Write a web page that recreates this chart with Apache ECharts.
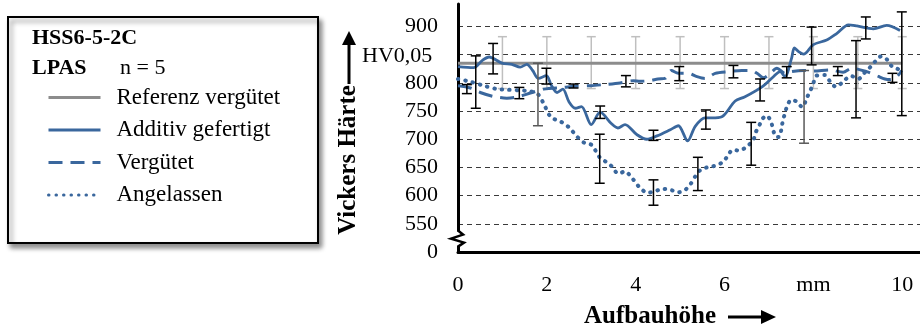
<!DOCTYPE html>
<html>
<head>
<meta charset="utf-8">
<script src="https://cdn.jsdelivr.net/npm/echarts@6/dist/echarts.min.js"></script>
<style>
  html, body { margin: 0; padding: 0; background: #fff; }
  #chart { width: 920px; height: 327px; }
</style>
</head>
<body>
<div id="chart"></div>
<script>
// Härteverlauf über der Aufbauhöhe
const additiv = [
  [0, 829], [0.35, 827], [0.55, 840], [0.7, 846], [0.99, 835], [1.21, 833], [1.4, 828], [1.55, 833],
  [1.68, 822], [1.81, 808], [1.99, 813], [2.1, 796], [2.23, 783], [2.36, 789], [2.5, 766], [2.64, 755],
  [2.78, 758], [3.0, 726], [3.2, 748], [3.45, 728], [3.6, 720], [3.76, 726], [4.03, 708], [4.25, 700],
  [4.48, 706], [4.78, 717], [4.96, 724], [5.17, 697], [5.34, 723], [5.56, 738], [5.71, 738], [5.94, 740],
  [6.24, 768], [6.45, 775], [6.86, 794], [7.1, 811], [7.25, 820], [7.36, 811], [7.51, 844], [7.57, 862],
  [7.66, 856], [7.78, 851], [8.0, 868], [8.3, 876], [8.53, 888], [8.79, 903], [8.98, 901], [9.35, 896],
  [9.65, 902], [9.95, 893]
];
const verguetet = [
  [0, 795], [0.28, 791], [0.5, 783], [0.8, 776], [1.1, 773], [1.33, 775], [1.63, 782], [1.93, 789],
  [2.38, 792], [2.6, 794], [2.98, 795], [3.28, 797], [3.65, 800], [3.95, 804], [4.1, 803], [4.33, 804],
  [4.5, 807], [4.66, 808], [4.8, 822], [4.96, 817], [5.19, 817], [5.35, 812], [5.56, 808], [5.79, 817],
  [6.09, 820], [6.39, 822], [6.61, 822], [6.73, 817], [6.88, 809], [7.03, 817], [7.18, 826], [7.36, 817],
  [7.51, 820], [7.78, 822], [8.0, 821], [8.37, 823], [8.67, 819], [8.86, 826], [9.2, 820], [9.45, 812],
  [9.61, 807], [9.73, 806], [9.88, 811], [9.99, 822]
];
const angelassen = [
  [0, 807], [0.28, 802], [0.58, 795], [0.88, 789], [1.1, 788], [1.33, 787], [1.63, 785], [1.81, 779],
  [1.96, 758], [2.08, 740], [2.19, 735], [2.34, 730], [2.5, 721], [2.69, 704], [2.86, 693], [3.01, 690],
  [3.11, 678], [3.2, 667], [3.35, 659], [3.46, 652], [3.61, 639], [3.76, 643], [3.89, 634], [4.01, 622],
  [4.12, 612], [4.27, 605], [4.44, 608], [4.61, 612], [4.79, 610], [4.96, 606], [5.11, 610], [5.23, 620],
  [5.34, 634], [5.45, 645], [5.64, 651], [5.79, 653], [5.95, 659], [6.07, 670], [6.18, 681], [6.33, 680],
  [6.5, 687], [6.65, 699], [6.7, 712], [6.78, 724], [6.85, 736], [6.95, 742], [7.05, 730], [7.1, 715],
  [7.16, 704], [7.23, 704], [7.28, 718], [7.31, 732], [7.36, 746], [7.41, 759], [7.5, 770], [7.62, 767],
  [7.75, 757], [7.85, 773], [7.94, 788], [7.99, 797], [8.07, 813], [8.26, 814], [8.38, 802], [8.51, 793],
  [8.64, 800], [8.75, 808], [8.86, 812], [9.01, 807], [9.15, 818], [9.28, 828], [9.39, 838], [9.52, 847],
  [9.65, 842], [9.76, 830], [9.89, 825], [9.99, 822]
];
const referenz = [[0, 835], [10, 835]];

// Streubalken: [x, unten, oben]
const referenzBars = [
  [1, 790, 882], [2, 790, 882], [3, 790, 882], [4, 790, 882], [5, 790, 882],
  [6, 790, 882], [7, 790, 882], [8, 790, 882], [9, 790, 882], [10, 790, 882]
];
const additivBars = [
  [0.79, 816, 870], [1.99, 798, 826], [3.2, 737, 759], [4.4, 698, 716],
  [5.58, 718, 752], [6.8, 768, 807], [7.96, 832, 899], [9.18, 878, 917]
];
const verguetetBars = [
  [0.2, 781, 797], [1.38, 772, 792], [2.6, 791, 798], [3.78, 793, 813], [4.98, 804, 829],
  [6.2, 809, 831], [7.4, 809, 829], [8.55, 813, 829], [9.78, 801, 817]
];
const angelassenBars = [
  [0.4, 755, 848], [3.19, 622, 709], [4.4, 583, 628], [5.4, 609, 668],
  [6.6, 654, 730], [8.96, 738, 875], [9.99, 742, 926]
];
const angelassenBarsGrau = [[1.8, 724, 835], [7.79, 693, 822]];

// 850 ist im Original durch "HV0,05" ersetzt
const xLabels = { 0: '0', 2: '2', 4: '4', 6: '6', 8: 'mm', 10: '10' };
const yLabels = { 500: '0', 550: '550', 600: '600', 650: '650', 700: '700', 750: '750', 800: '800', 900: '900' };

const blue = '#3A679D';
const serif = 'Liberation Serif';

function errorBar(color, width, cap) {
  return function (params, api) {
    const lo = api.coord([api.value(0), api.value(1)]);
    const hi = api.coord([api.value(0), api.value(2)]);
    const style = { stroke: color, lineWidth: width };
    return {
      type: 'group',
      children: [
        { type: 'line', shape: { x1: lo[0], y1: hi[1], x2: lo[0], y2: lo[1] }, style },
        { type: 'line', shape: { x1: lo[0] - cap, y1: hi[1], x2: lo[0] + cap, y2: hi[1] }, style },
        { type: 'line', shape: { x1: lo[0] - cap, y1: lo[1], x2: lo[0] + cap, y2: lo[1] }, style }
      ]
    };
  };
}

function barSeries(data, color, width, cap, z) {
  return {
    type: 'custom',
    data,
    z,
    encode: { x: 0, y: [1, 2] },
    renderItem: errorBar(color, width, cap),
    silent: true
  };
}

const chart = echarts.init(document.getElementById('chart'));

chart.setOption({
  animation: false,
  grid: { left: 458, right: 0, top: 4, bottom: 75 },
  legend: {
    orient: 'vertical',
    left: 47,
    top: 86,
    padding: 0,
    itemWidth: 52,
    itemHeight: 14,
    itemGap: 9.5,
    itemStyle: { opacity: 0 },
    lineStyle: { width: 3 },
    data: ['Referenz vergütet', 'Additiv gefertigt', 'Vergütet', 'Angelassen'],
    textStyle: { fontFamily: serif, fontSize: 23, color: '#000', lineHeight: 23, padding: [0, 0, 0, 11] }
  },
  xAxis: {
    type: 'value',
    min: 0,
    max: 10.4,
    interval: 2,
    splitLine: { show: false },
    axisTick: { show: false },
    axisLine: { lineStyle: { color: '#000', width: 3 } },
    axisLabel: {
      margin: 22,
      showMaxLabel: false,
      fontFamily: serif,
      fontSize: 22,
      color: '#000',
      formatter: v => xLabels[v] || ''
    }
  },
  yAxis: {
    type: 'value',
    min: 500,
    max: 940,
    interval: 50,
    axisTick: { show: false },
    axisLine: { show: true, lineStyle: { color: '#000', width: 3 } },
    splitLine: {
      show: true,
      showMinLine: false,
      showMaxLine: false,
      lineStyle: { color: '#3a3a3a', width: 1, type: [5, 4] }
    },
    axisLabel: {
      margin: 20,
      showMaxLabel: false,
      fontFamily: serif,
      fontSize: 22,
      color: '#000',
      formatter: v => yLabels[v] || ''
    }
  },
  series: [
    barSeries(referenzBars, '#BFBFBF', 1.5, 4.5, 1),
    {
      name: 'Referenz vergütet',
      type: 'line',
      data: referenz,
      symbol: 'none',
      z: 2,
      lineStyle: { color: '#8C8C8C', width: 3 },
      itemStyle: { color: '#8C8C8C' }
    },
    {
      name: 'Additiv gefertigt',
      type: 'line',
      data: additiv,
      symbol: 'none',
      smooth: 0.3,
      z: 3,
      lineStyle: { color: blue, width: 2.8 },
      itemStyle: { color: blue }
    },
    {
      name: 'Vergütet',
      type: 'line',
      data: verguetet,
      symbol: 'none',
      smooth: 0.3,
      z: 3,
      lineStyle: { color: blue, width: 3, type: [14, 8] },
      itemStyle: { color: blue }
    },
    {
      name: 'Angelassen',
      type: 'line',
      data: angelassen,
      symbol: 'none',
      smooth: 0.3,
      z: 3,
      lineStyle: { color: blue, width: 4, type: [0.5, 7], cap: 'round' },
      itemStyle: { color: blue }
    },
    barSeries(additivBars, '#000', 1.5, 5, 4),
    barSeries(verguetetBars, '#000', 1.5, 5, 4),
    barSeries(angelassenBars, '#000', 1.5, 5, 4),
    barSeries(angelassenBarsGrau, '#595959', 1.5, 5, 4)
  ]
});

// Achsbruch, Legendenrahmen und Achsbeschriftungen
const brk = chart.convertToPixel({ gridIndex: 0 }, [0, 522]);
chart.setOption({
  graphic: [
    {
      type: 'rect',
      z: -1,
      shape: { x: 8, y: 17, width: 310, height: 226 },
      style: {
        fill: '#fff', stroke: '#000', lineWidth: 2,
        shadowBlur: 5, shadowOffsetX: 3, shadowOffsetY: 4, shadowColor: 'rgba(0,0,0,0.45)'
      }
    },
    { type: 'text', x: 32, y: 38, style: { text: 'HSS6-5-2C', font: 'bold 22px "Liberation Serif"', fill: '#000', verticalAlign: 'middle' } },
    { type: 'text', x: 32, y: 68, style: { text: 'LPAS', font: 'bold 22px "Liberation Serif"', fill: '#000', verticalAlign: 'middle' } },
    { type: 'text', x: 120, y: 68, style: { text: 'n = 5', font: '22px "Liberation Serif"', fill: '#000', verticalAlign: 'middle' } },
    {
      type: 'text', x: 349, y: 160, rotation: Math.PI / 2,
      style: { text: 'Vickers Härte', font: 'bold 25px "Liberation Serif"', fill: '#000', align: 'center', verticalAlign: 'middle' }
    },
    { type: 'line', shape: { x1: 349, y1: 84, x2: 349, y2: 42 }, style: { stroke: '#000', lineWidth: 3 } },
    { type: 'polygon', shape: { points: [[342, 45], [356, 45], [349, 31]] }, style: { fill: '#000' } },
    { type: 'text', x: 362, y: 56, style: { text: 'HV0,05', font: '22px "Liberation Serif"', fill: '#000', verticalAlign: 'middle' } },
    { type: 'text', x: 650, y: 317, style: { text: 'Aufbauhöhe', font: 'bold 25px "Liberation Serif"', fill: '#000', align: 'center', verticalAlign: 'middle' } },
    { type: 'line', shape: { x1: 728, y1: 317, x2: 764, y2: 317 }, style: { stroke: '#000', lineWidth: 3 } },
    { type: 'polygon', shape: { points: [[761, 310], [761, 324], [776, 317]] }, style: { fill: '#000' } },
    {
      type: 'rect', z: 10,
      shape: { x: brk[0] - 6, y: brk[1] - 8, width: 12, height: 14 },
      style: { fill: '#fff' }
    },
    {
      type: 'polyline', z: 11,
      shape: { points: [[brk[0], brk[1] - 9], [brk[0] + 5, brk[1] - 5], [brk[0] - 7, brk[1] - 1], [brk[0] + 6, brk[1] + 3], [brk[0], brk[1] + 7]] },
      style: { stroke: '#000', lineWidth: 2.5, fill: null }
    }
  ]
});
</script>
</body>
</html>
